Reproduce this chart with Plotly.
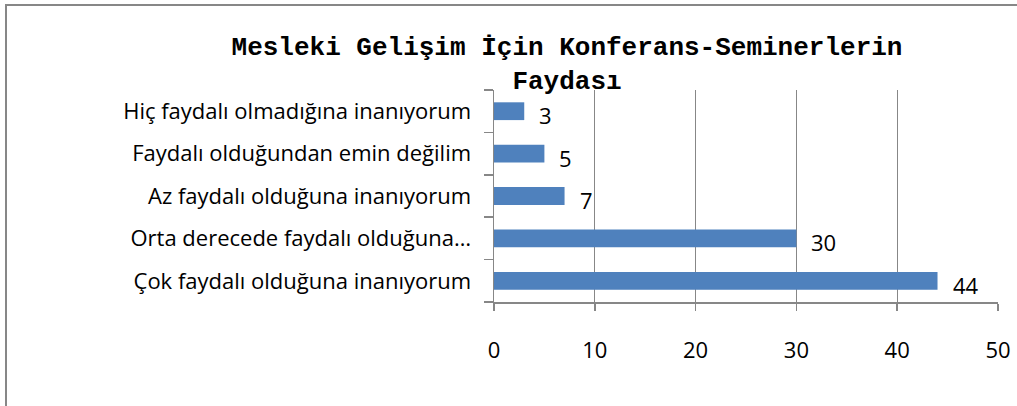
import plotly.graph_objects as go

categories = [
    "Çok faydalı olduğuna inanıyorum",
    "Orta derecede faydalı olduğuna…",
    "Az faydalı olduğuna inanıyorum",
    "Faydalı olduğundan emin değilim",
    "Hiç faydalı olmadığına inanıyorum",
]
values = [44, 30, 7, 5, 3]
x_ticks = [0, 10, 20, 30, 40, 50]
title_text = "Mesleki Gelişim İçin Konferans-Seminerlerin<br>Faydası"

W, H = 1017, 406
ml, mr, mt, mb = 494, 19, 90, 104
pw, ph = W - ml - mr, H - mt - mb

label_font = dict(family="'Open Sans', 'Noto Sans', sans-serif", size=22, color="#000000")
grey = "#878787"

fig = go.Figure()
fig.add_trace(go.Bar(
    y=categories, x=values, orientation="h",
    marker=dict(color="#4F81BD", line=dict(width=0)),
    width=0.42,
    hoverinfo="skip",
))

for c, v in zip(categories, values):
    fig.add_annotation(x=v, y=c, text=str(v), showarrow=False,
                       xanchor="left", xshift=13, yshift=-4, font=label_font)

# outer chart frame
fig.add_shape(type="rect", xref="paper", yref="paper",
              x0=(6 - ml) / pw, x1=(W + 10 - ml) / pw,
              y0=-(H + 10 - (mt + ph)) / ph, y1=1 + (mt - 5) / ph,
              line=dict(color=grey, width=2), layer="below")

fig.update_layout(
    width=W, height=H,
    margin=dict(l=ml, r=mr, t=mt, b=mb, pad=0, autoexpand=False),
    paper_bgcolor="white", plot_bgcolor="white",
    showlegend=False,
    bargap=0.58,
    title=dict(text=title_text, x=567 / W, xanchor="center",
               y=1 - 55 / H, yanchor="middle",
               font=dict(family="'Liberation Mono', 'Courier New', monospace",
                         size=26, color="#000000", weight="bold")),
    xaxis=dict(range=[0, 50], tickvals=x_ticks, showgrid=True,
               gridcolor=grey, gridwidth=1, zeroline=False,
               showline=True, linecolor=grey, linewidth=1.5,
               ticks="outside", ticklen=7, tickcolor=grey, tickwidth=1.5,
               ticklabelstandoff=21, tickfont=label_font, fixedrange=True,
               automargin=False),
    yaxis=dict(categoryorder="array", categoryarray=categories,
               showgrid=False, zeroline=False, showline=True,
               linecolor=grey, linewidth=1.5,
               ticks="outside", ticklen=9, tickcolor=grey, tickwidth=1.5,
               tickson="boundaries", ticklabelstandoff=17,
               tickfont=label_font, fixedrange=True, automargin=False),
)

fig.write_html("out.html",
               config={"displayModeBar": False, "staticPlot": True},
               post_script="document.body.style.margin='0';document.body.style.overflow='hidden';")
